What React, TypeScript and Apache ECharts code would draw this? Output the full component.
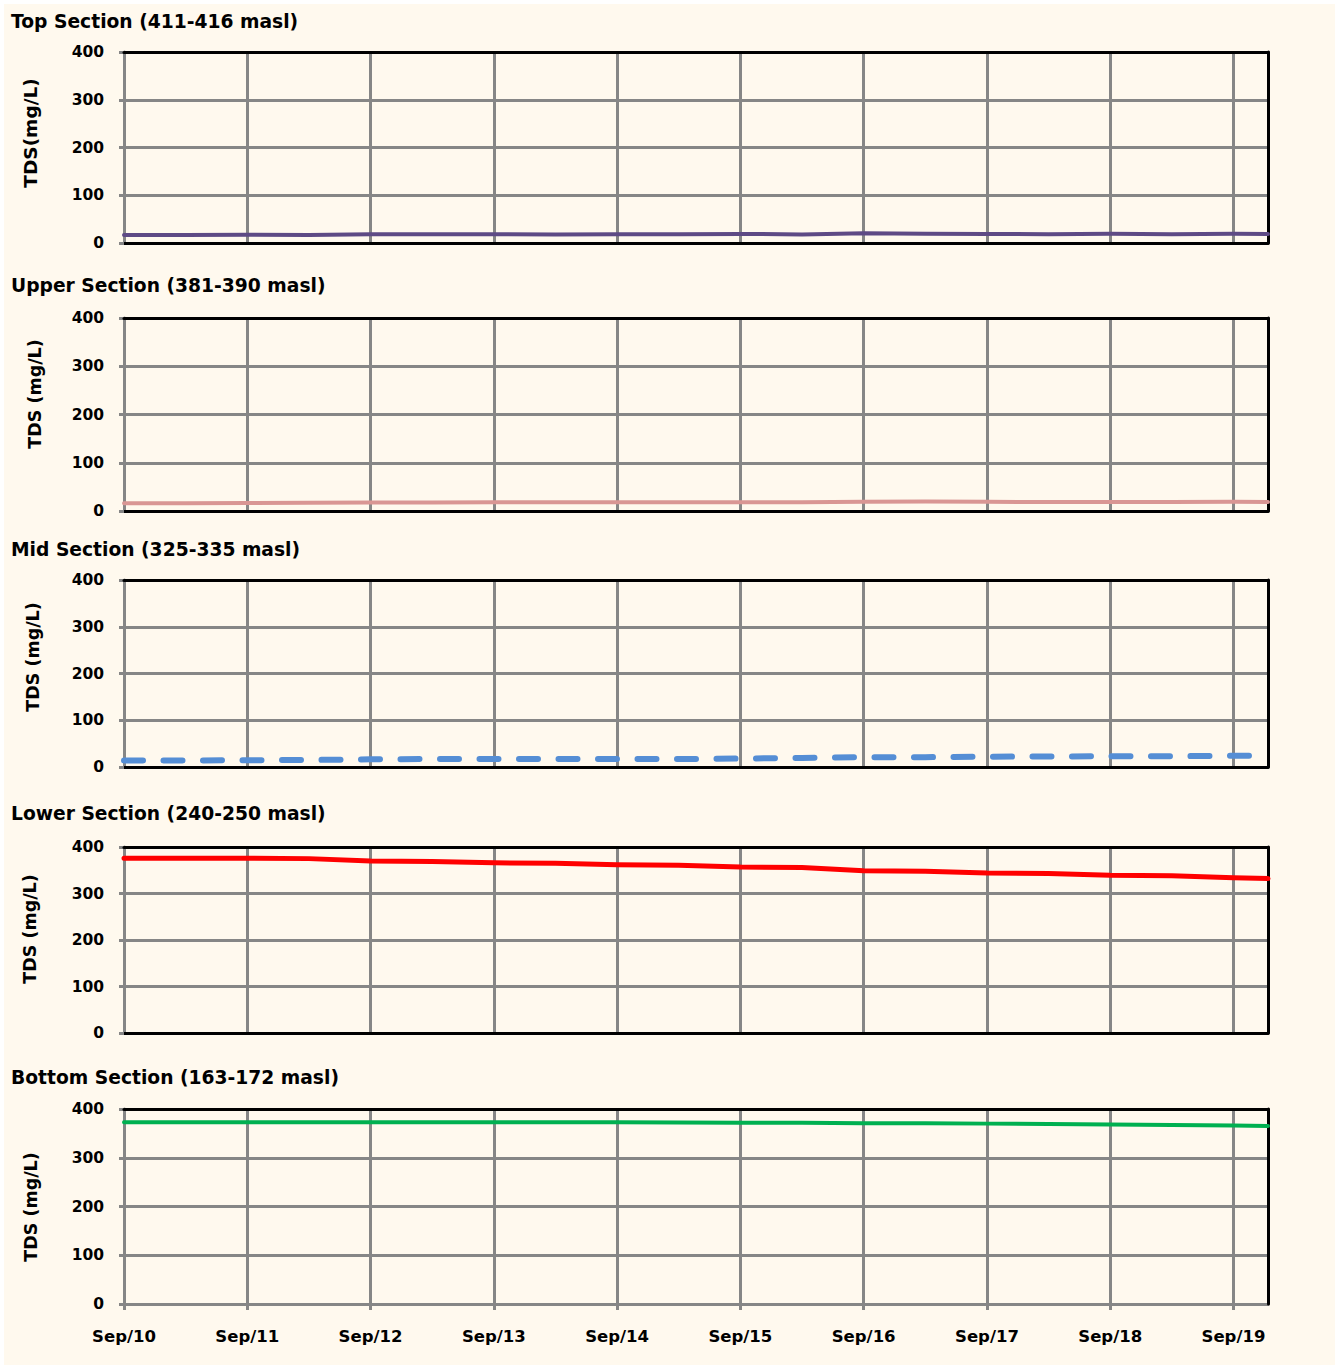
import React, { useEffect, useRef } from "react";
import * as echarts from "echarts";

// ---- data ----
const dayLabels = ["Sep/10", "Sep/11", "Sep/12", "Sep/13", "Sep/14", "Sep/15", "Sep/16", "Sep/17", "Sep/18", "Sep/19"];
const days = [0, 0.5, 1, 1.5, 2, 2.5, 3, 3.5, 4, 4.5, 5, 5.5, 6, 6.5, 7, 7.5, 8, 8.5, 9, 9.28];
const topValues = [17, 17, 17.5, 17, 18.5, 18.5, 18.5, 18, 18.5, 18.5, 19, 18, 20.5, 19.5, 19, 18.5, 19.5, 18.5, 19.5, 19];
const upperValues = [16, 16, 16.5, 17, 17.5, 17.5, 18, 18, 18, 18, 18, 18, 19, 19.5, 19, 18.5, 18.5, 18.5, 19, 18.5];
const midValues = [14, 14, 14.5, 15, 16.5, 17, 17, 17, 17, 17, 18, 19.5, 21, 21, 22, 22.5, 23, 23, 24, 24.5];
const lowerValues = [376, 376, 376, 375, 370, 369, 366, 365, 362, 361, 357, 356, 349, 348, 344, 343, 339, 338, 334, 332];
const bottomValues = [373, 373, 373, 373, 373, 373, 373, 373, 373, 372.5, 372, 372, 371, 371, 370, 369, 368, 367, 366, 365];
const panelTitles = [
  "Top Section (411-416 masl)",
  "Upper Section (381-390 masl)",
  "Mid Section (325-335 masl)",
  "Lower Section (240-250 masl)",
  "Bottom Section (163-172 masl)",
];
const yNames = ["TDS(mg/L)", "TDS (mg/L)", "TDS (mg/L)", "TDS (mg/L)", "TDS (mg/L)"];
const yMin = 0;
const yMax = 400;
const yStep = 100;
const xMax = 9.28;

// ---- layout / style ----
const FONT = "'DejaVu Sans', 'Liberation Sans', Arial, sans-serif";
const gridTops = [52, 318, 580, 847, 1109];
const gridHeights = [191, 193, 187, 186, 195];
const gridLeft = 124;
const gridWidth = 1144;
const titleY = [21, 285, 549, 813, 1077];
const nameX = [30, 35, 33, 30, 31];
const nameY = [133, 394, 657, 929, 1207];
const colors = ["#5E4A85", "#D99694", "#558ED5", "#FF0000", "#00B050"];
const widths = [4, 4, 6, 5, 4];
const GRAY = "#868686";

export default function App() {
  const ref = useRef<HTMLDivElement>(null);
  useEffect(() => {
    document.body.style.margin = "0";
    const chart = echarts.init(ref.current!, undefined, { renderer: "svg" });
    const seriesValues = [topValues, upperValues, midValues, lowerValues, bottomValues];

    const grid: any[] = [];
    const xAxis: any[] = [];
    const yAxis: any[] = [];
    const series: any[] = [];
    const graphic: any[] = [
      { type: "rect", shape: { x: 4, y: 4, width: 1331, height: 1361 }, style: { fill: "#FFF9EE" }, z: -10, silent: true },
    ];

    for (let i = 0; i < 5; i++) {
      const last = i === 4;
      grid.push({ left: gridLeft, top: gridTops[i], width: gridWidth, height: gridHeights[i], containLabel: false });
      xAxis.push({
        type: "value",
        gridIndex: i,
        min: 0,
        max: xMax,
        interval: 1,
        position: "bottom",
        z: 1,
        axisLine: { show: true, onZero: false, lineStyle: { color: last ? GRAY : "#000", width: 3 } },
        axisTick: { show: last, length: 6, lineStyle: { color: GRAY, width: 3 } },
        axisLabel: {
          show: last,
          margin: 24,
          showMaxLabel: false,
          fontFamily: FONT,
          fontWeight: "bold",
          fontSize: 16.5,
          color: "#000",
          formatter: (v: number) => (Number.isInteger(v) ? dayLabels[v] ?? "" : ""),
        },
        splitLine: { show: true, showMinLine: false, showMaxLine: false, lineStyle: { color: GRAY, width: 3 } },
      });
      yAxis.push({
        type: "value",
        gridIndex: i,
        min: yMin,
        max: yMax,
        interval: yStep,
        position: "left",
        z: 1,
        axisLine: { show: true, onZero: false, lineStyle: { color: GRAY, width: 3 } },
        axisTick: { show: true, length: 5, lineStyle: { color: GRAY, width: 3 } },
        axisLabel: { margin: 20, fontFamily: FONT, fontWeight: "bold", fontSize: 15.5, color: "#000" },
        splitLine: { show: true, showMinLine: false, showMaxLine: false, lineStyle: { color: GRAY, width: 3 } },
      });
      series.push({
        type: "line",
        xAxisIndex: i,
        yAxisIndex: i,
        data: days.map((d, k) => [d, seriesValues[i][k]]),
        showSymbol: false,
        symbol: "none",
        z: 5,
        clip: false,
        lineStyle: {
          color: colors[i],
          width: widths[i],
          type: i === 2 ? [19, 20.5] : "solid",
          cap: "round",
          join: "round",
        },
      });
      graphic.push({
        type: "text",
        x: 11,
        y: titleY[i],
        style: {
          text: panelTitles[i],
          font: `bold 18.7px ${FONT}`,
          fill: "#000",
          textAlign: "left",
          textVerticalAlign: "middle",
        },
      });
      graphic.push({
        type: "text",
        x: nameX[i],
        y: nameY[i],
        rotation: Math.PI / 2,
        style: {
          text: yNames[i],
          font: `bold ${i === 0 ? 18.5 : 17.5}px ${FONT}`,
          fill: "#000",
          textAlign: "center",
          textVerticalAlign: "middle",
        },
      });
    }
    // border axes (top & right, black)
    for (let i = 0; i < 5; i++) {
      xAxis.push({
        type: "value",
        gridIndex: i,
        min: 0,
        max: xMax,
        interval: 1,
        position: "top",
        z: 3,
        axisLine: { show: true, onZero: false, lineStyle: { color: "#000", width: 3 } },
        axisTick: { show: false },
        axisLabel: { show: false },
        splitLine: { show: false },
      });
      yAxis.push({
        type: "value",
        gridIndex: i,
        min: yMin,
        max: yMax,
        interval: yStep,
        position: "right",
        z: 3,
        axisLine: { show: true, onZero: false, lineStyle: { color: "#000", width: 3 } },
        axisTick: { show: false },
        axisLabel: { show: false },
        splitLine: { show: false },
      });
    }

    chart.setOption({
      animation: false,
      backgroundColor: "#FFFFFF",
      grid,
      xAxis,
      yAxis,
      series,
      graphic,
    });
    return () => chart.dispose();
  }, []);
  return <div ref={ref} style={{ width: 1341, height: 1368 }} />;
}
